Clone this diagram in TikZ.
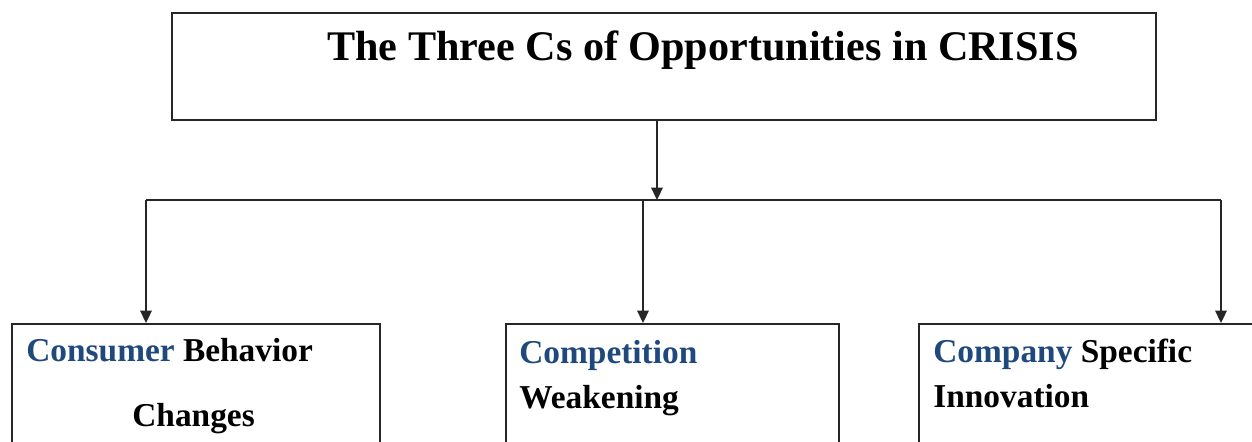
\documentclass[tikz,border=0pt]{standalone}
\usepackage{fontspec}
\setmainfont{Liberation Serif}
\usetikzlibrary{arrows.meta}
\definecolor{headblue}{HTML}{1F497D}
\tikzset{
  frame/.style={draw=black!85,line width=1pt,inner sep=0pt},
  link/.style={draw=black!85,line width=1pt},
  arrow/.style={link,-{Triangle[length=7pt,width=6.5pt]}},
  title/.style={anchor=base west,inner sep=0pt,font=\fontsize{24}{28}\selectfont\bfseries},
  label/.style={anchor=base west,inner sep=0pt,font=\fontsize{19}{23}\selectfont\bfseries}
}
\begin{document}
\begin{tikzpicture}[x=0.02cm,y=-0.02cm]
\useasboundingbox (0,0) rectangle (1252,441);
\clip (0,0) rectangle (1252,441);

% boxes
\node[frame,minimum width=19.68cm,minimum height=2.14cm] (top) at (664,66.5) {};
\node[frame,minimum width=7.36cm,minimum height=4cm,anchor=north west] (consumer) at (11,323) {};
\node[frame,minimum width=6.66cm,minimum height=4cm,anchor=north west] (competition) at (505,323) {};
\node[frame,minimum width=8cm,minimum height=4cm,anchor=north west] (company) at (918,323) {};

% texts
\node[title] (heading) at (327,60) {The Three Cs of Opportunities in CRISIS};
\node[label] (cons) at (26,361) {\textcolor{headblue}{Consumer} Behavior};
\node[label] (chg) at (132,426) {Changes};
\node[label] (comp) at (519,363) {\textcolor{headblue}{Competition}};
\node[label] (weak) at (519,408) {Weakening};
\node[label] (compy) at (933,362) {\textcolor{headblue}{Company} Specific};
\node[label] (innov) at (933,407) {Innovation};

% branch points
\coordinate (hub) at (657,200);
\coordinate (left) at (146,200);
\coordinate (mid) at (643,200);
\coordinate (right) at (1221,200);

\draw[arrow] (top.south -| hub) -- (hub);
\draw[link] (left) -- (right);
\draw[arrow] (left) -- (left |- consumer.north);
\draw[arrow] (mid) -- (mid |- competition.north);
\draw[arrow] (right) -- (right |- company.north);
\end{tikzpicture}
\end{document}
